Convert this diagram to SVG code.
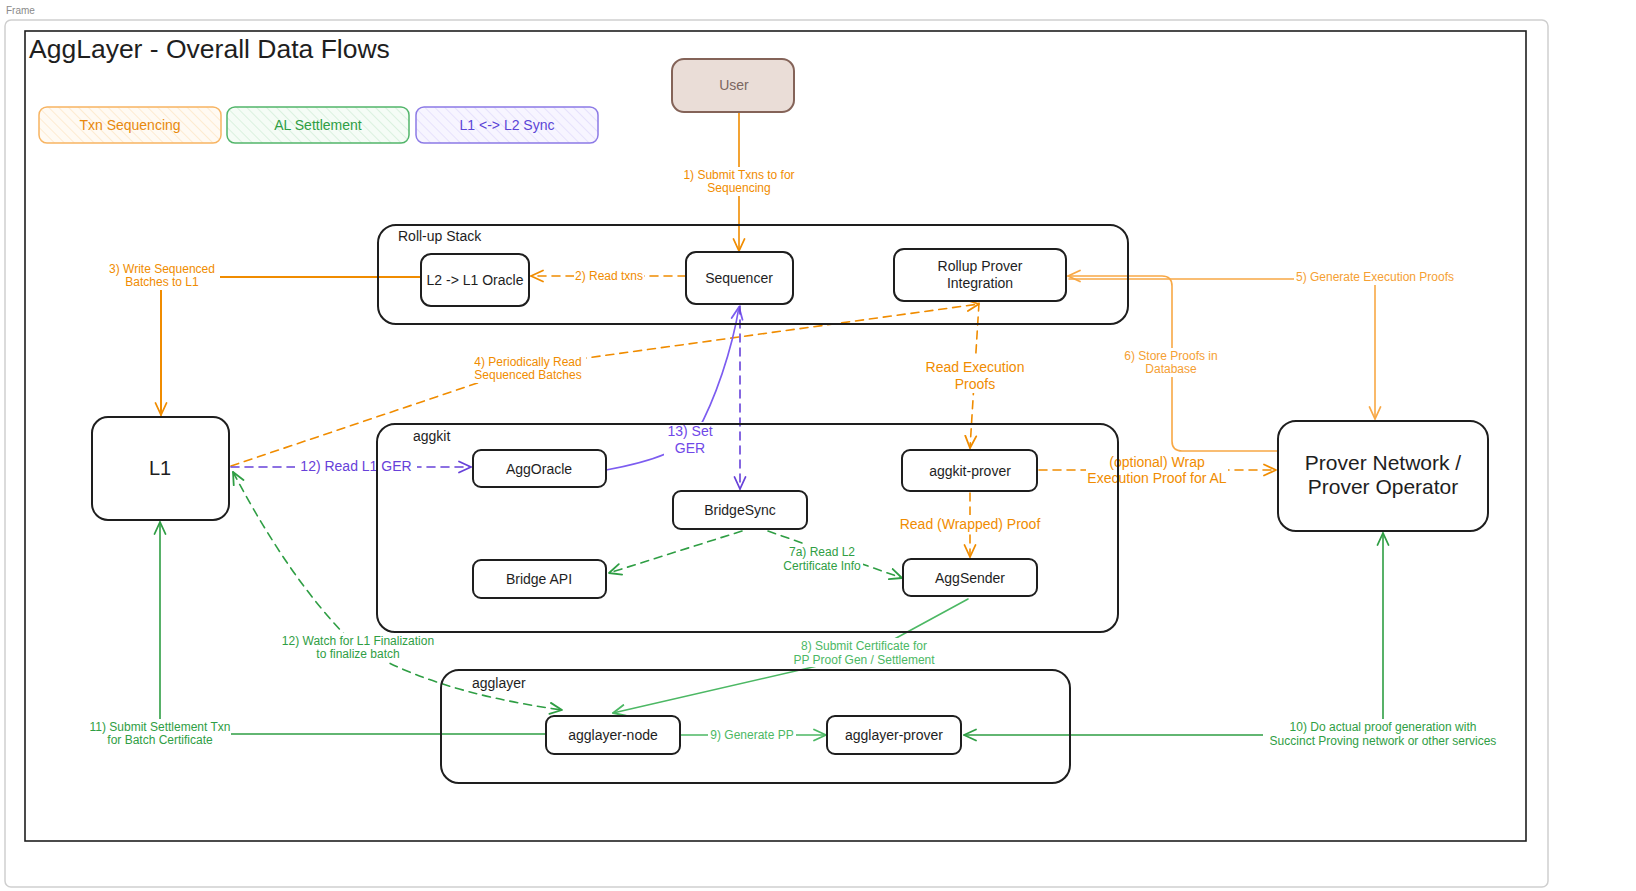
<svg xmlns="http://www.w3.org/2000/svg" width="1636" height="891" viewBox="0 0 1636 891">
<style>
text{font-family:"Liberation Sans",Arial,sans-serif;}
.node{fill:#fff;stroke:#1e1e1e;stroke-width:2;}
.cont{fill:none;stroke:#1e1e1e;stroke-width:2;}
.nt{font-size:14px;fill:#1e1e1e;text-anchor:middle;}
.ct{font-size:14px;fill:#1e1e1e;}
.ln{fill:none;stroke-width:1.6;stroke-linecap:round;stroke-linejoin:round;}
.dash{stroke-dasharray:8 6;}
.o{stroke:#f08c00;}
.ol{stroke:#f8a845;}
.g{stroke:#2f9e44;}
.gl{stroke:#4cb864;}
.p{stroke:#6741d9;}
.pl{stroke:#7c5cf0;}
.bg{fill:#fff;}
.lb{font-size:12px;text-anchor:middle;}
.lb14{font-size:14px;text-anchor:middle;}
.to{fill:#f08c00;}
.tol{fill:#f5a033;}
.tg{fill:#2f9e44;}
.tgl{fill:#4cb864;}
.tp{fill:#6741d9;}
.tpl{fill:#7048e8;}
</style>
<defs>
<marker id="aO" viewBox="0 0 14 14" refX="13" refY="7" markerWidth="14" markerHeight="14" markerUnits="userSpaceOnUse" orient="auto-start-reverse"><path d="M1,1.5 L13,7 L1,12.5" fill="none" stroke="#f08c00" stroke-width="1.8" stroke-linecap="round" stroke-linejoin="round"/></marker>
<marker id="aOL" viewBox="0 0 14 14" refX="13" refY="7" markerWidth="14" markerHeight="14" markerUnits="userSpaceOnUse" orient="auto-start-reverse"><path d="M1,1.5 L13,7 L1,12.5" fill="none" stroke="#f8a845" stroke-width="1.8" stroke-linecap="round" stroke-linejoin="round"/></marker>
<marker id="aG" viewBox="0 0 14 14" refX="13" refY="7" markerWidth="14" markerHeight="14" markerUnits="userSpaceOnUse" orient="auto-start-reverse"><path d="M1,1.5 L13,7 L1,12.5" fill="none" stroke="#2f9e44" stroke-width="1.8" stroke-linecap="round" stroke-linejoin="round"/></marker>
<marker id="aGL" viewBox="0 0 14 14" refX="13" refY="7" markerWidth="14" markerHeight="14" markerUnits="userSpaceOnUse" orient="auto-start-reverse"><path d="M1,1.5 L13,7 L1,12.5" fill="none" stroke="#4cb864" stroke-width="1.8" stroke-linecap="round" stroke-linejoin="round"/></marker>
<marker id="aP" viewBox="0 0 14 14" refX="13" refY="7" markerWidth="14" markerHeight="14" markerUnits="userSpaceOnUse" orient="auto-start-reverse"><path d="M1,1.5 L13,7 L1,12.5" fill="none" stroke="#6741d9" stroke-width="1.8" stroke-linecap="round" stroke-linejoin="round"/></marker>
<marker id="aPL" viewBox="0 0 14 14" refX="13" refY="7" markerWidth="14" markerHeight="14" markerUnits="userSpaceOnUse" orient="auto-start-reverse"><path d="M1,1.5 L13,7 L1,12.5" fill="none" stroke="#7c5cf0" stroke-width="1.8" stroke-linecap="round" stroke-linejoin="round"/></marker>
<pattern id="hO" width="7" height="7" patternUnits="userSpaceOnUse" patternTransform="rotate(-45)"><rect width="7" height="7" fill="#fffaf3"/><line x1="0" y1="0" x2="0" y2="7" stroke="#fbdcb0" stroke-width="1"/></pattern>
<pattern id="hG" width="7" height="7" patternUnits="userSpaceOnUse" patternTransform="rotate(-45)"><rect width="7" height="7" fill="#f5fcf6"/><line x1="0" y1="0" x2="0" y2="7" stroke="#bfe6c8" stroke-width="1"/></pattern>
<pattern id="hP" width="7" height="7" patternUnits="userSpaceOnUse" patternTransform="rotate(-45)"><rect width="7" height="7" fill="#f7f5ff"/><line x1="0" y1="0" x2="0" y2="7" stroke="#d6cdfa" stroke-width="1"/></pattern>
</defs>

<rect x="0" y="0" width="1636" height="891" fill="#fff"/>
<g id="frame">
<text x="6" y="14" font-size="10" fill="#8a8a8a">Frame</text>
<rect x="5" y="20" width="1543" height="867" rx="6" fill="#fff" stroke="#cfcfcf" stroke-width="1.5"/>
<rect x="25" y="31" width="1501" height="810" fill="none" stroke="#1e1e1e" stroke-width="1.6"/>
<text x="29" y="58" font-size="26.5" fill="#1e1e1e">AggLayer - Overall Data Flows</text>
</g>

<g id="legend">
<g id="legend-txn"><rect x="39" y="107" width="182" height="36" rx="8" fill="url(#hO)" stroke="#f7b462" stroke-width="1.5"/><text x="130" y="129.5" class="nt" style="fill:#e8890c">Txn Sequencing</text></g>
<g id="legend-al"><rect x="227" y="107" width="182" height="36" rx="8" fill="url(#hG)" stroke="#52b56a" stroke-width="1.5"/><text x="318" y="129.5" class="nt" style="fill:#2f9e44">AL Settlement</text></g>
<g id="legend-sync"><rect x="416" y="107" width="182" height="36" rx="8" fill="url(#hP)" stroke="#8c7ae6" stroke-width="1.5"/><text x="507" y="129.5" class="nt" style="fill:#5b45d6">L1 &lt;-&gt; L2 Sync</text></g>
</g>

<g id="connectors">
<!-- 1 -->
<path class="ln o" d="M739,112 L739,251" marker-end="url(#aO)"/>
<rect class="bg" x="680" y="167" width="118" height="29"/>
<text class="lb to" x="739" y="179">1) Submit Txns to for</text>
<text class="lb to" x="739" y="192">Sequencing</text>
<!-- 2 -->
<path class="ln o dash" d="M686,276 L531,276" marker-end="url(#aO)"/>
<rect class="bg" x="574" y="268" width="70" height="16"/>
<text class="lb to" x="609" y="280">2) Read txns</text>
<!-- 3 -->
<path class="ln o" style="stroke-width:2" d="M421,277 L161,277 L161,415" marker-end="url(#aO)"/>
<rect class="bg" x="104" y="261" width="116" height="29"/>
<text class="lb to" x="162" y="273">3) Write Sequenced</text>
<text class="lb to" x="162" y="286">Batches to L1</text>
<!-- 4 -->
<path class="ln o dash" d="M231,466 L528,366 L979,304" marker-end="url(#aO)"/>
<rect class="bg" x="470" y="354" width="116" height="29"/>
<text class="lb to" x="528" y="366">4) Periodically Read</text>
<text class="lb to" x="528" y="379">Sequenced Batches</text>
<!-- 5 -->
<path class="ln ol" d="M1069,279 L1375,279 L1375,419" marker-end="url(#aOL)"/>
<rect class="bg" x="1294" y="270" width="162" height="15"/>
<text class="lb tol" x="1375" y="281">5) Generate Execution Proofs</text>
<!-- 6 -->
<path class="ln ol" d="M1277,451 L1182,451 Q1172,451 1172,441 L1172,286 Q1172,276 1162,276 L1068,276" marker-end="url(#aOL)"/>
<rect class="bg" x="1120" y="348" width="102" height="29"/>
<text class="lb tol" x="1171" y="360">6) Store Proofs in</text>
<text class="lb tol" x="1171" y="373">Database</text>
<!-- read execution proofs -->
<path class="ln o dash" d="M979,303 L970,448" marker-end="url(#aO)"/>
<rect class="bg" x="924" y="357" width="102" height="36"/>
<text class="lb14 to" x="975" y="372">Read Execution</text>
<text class="lb14 to" x="975" y="389">Proofs</text>
<!-- read wrapped proof -->
<path class="ln o dash" d="M970,493 L970,557" marker-end="url(#aO)"/>
<rect class="bg" x="898" y="515" width="144" height="18"/>
<text class="lb14 to" x="970" y="529">Read (Wrapped) Proof</text>
<!-- optional wrap -->
<path class="ln o dash" d="M1039,470 L1276,470" marker-end="url(#aO)"/>
<rect class="bg" x="1086" y="453" width="142" height="34"/>
<text class="lb14 to" x="1157" y="467">(optional) Wrap</text>
<text class="lb14 to" x="1157" y="483">Execution Proof for AL</text>
<!-- 12 read L1 GER -->
<path class="ln p dash" d="M231,467 L471,467" marker-end="url(#aP)"/>
<rect class="bg" x="295" y="457" width="122" height="18"/>
<text class="lb14 tp" x="356" y="471">12) Read L1 GER</text>
<!-- 13 set GER -->
<path class="ln pl" d="M606,470 C650,462 685,450 697,432 C715,400 732,350 739,307" marker-end="url(#aPL)"/>
<rect class="bg" x="664" y="422" width="52" height="35"/>
<text class="lb14 tpl" x="690" y="436">13) Set</text>
<text class="lb14 tpl" x="690" y="453">GER</text>
<!-- sequencer to bridgesync -->
<path class="ln p dash" d="M740,306 L740,489" marker-end="url(#aP)"/>
<!-- bridgesync to bridge api -->
<path class="ln g dash" d="M742,531 L609,573" marker-end="url(#aG)"/>
<!-- 7a -->
<path class="ln g dash" d="M768,531 L902,578" marker-end="url(#aG)"/>
<rect class="bg" x="781" y="544" width="82" height="29"/>
<text class="lb tg" x="822" y="556">7a) Read L2</text>
<text class="lb tg" x="822" y="570">Certificate Info</text>
<!-- 8 -->
<path class="ln gl" d="M968,599 L865,655 L613,713" marker-end="url(#aGL)"/>
<rect class="bg" x="789" y="638" width="150" height="29"/>
<text class="lb tgl" x="864" y="650">8) Submit Certificate for</text>
<text class="lb tgl" x="864" y="664">PP Proof Gen / Settlement</text>
<!-- 9 -->
<path class="ln gl" d="M680,735 L826,735" marker-end="url(#aGL)"/>
<rect class="bg" x="708" y="727" width="88" height="16"/>
<text class="lb tgl" x="752" y="739">9) Generate PP</text>
<!-- 10 -->
<path class="ln g" d="M964,735 L1383,735 L1383,533" marker-start="url(#aG)" marker-end="url(#aG)"/>
<rect class="bg" x="1263" y="719" width="240" height="30"/>
<text class="lb tg" x="1383" y="731">10) Do actual proof generation with</text>
<text class="lb tg" x="1383" y="745">Succinct Proving network or other services</text>
<!-- 11 -->
<path class="ln g" d="M545,734 L160,734 L160,522" marker-end="url(#aG)"/>
<rect class="bg" x="89" y="719" width="142" height="29"/>
<text class="lb tg" x="160" y="731">11) Submit Settlement Txn</text>
<text class="lb tg" x="160" y="744">for Batch Certificate</text>
<!-- 12 watch -->
<path class="ln g dash" d="M233,472 Q290,580 350,640 Q420,690 562,710" marker-start="url(#aG)" marker-end="url(#aG)"/>
<rect class="bg" x="279" y="633" width="158" height="29"/>
<text class="lb tg" x="358" y="645">12) Watch for L1 Finalization</text>
<text class="lb tg" x="358" y="658">to finalize batch</text>
</g>

<g id="rollup-stack"><rect class="cont" x="378" y="225" width="750" height="99" rx="18"/><text class="ct" x="398" y="241">Roll-up Stack</text></g>
<g id="aggkit"><rect class="cont" x="377" y="424" width="741" height="208" rx="18"/><text class="ct" x="413" y="441">aggkit</text></g>
<g id="agglayer"><rect class="cont" x="441" y="670" width="629" height="113" rx="18"/><text class="ct" x="472" y="688">agglayer</text></g>

<g id="user"><rect x="672" y="59" width="122" height="53" rx="12" fill="#eaddd7" stroke="#846358" stroke-width="2"/><text class="nt" x="734" y="90" style="fill:#7a6661">User</text></g>
<g id="l2-l1-oracle"><rect class="node" x="421" y="254" width="108" height="52" rx="10"/><text class="nt" x="475" y="285">L2 -&gt; L1 Oracle</text></g>
<g id="sequencer"><rect class="node" x="686" y="252" width="107" height="52" rx="10"/><text class="nt" x="739" y="283">Sequencer</text></g>
<g id="rollup-prover"><rect class="node" x="894" y="249" width="172" height="52" rx="10"/><text class="nt" x="980" y="271">Rollup Prover</text><text class="nt" x="980" y="288">Integration</text></g>
<g id="l1"><rect class="node" x="92" y="417" width="137" height="103" rx="16"/><text class="nt" x="160" y="475" style="font-size:20px">L1</text></g>
<g id="aggoracle"><rect class="node" x="473" y="450" width="133" height="37" rx="8"/><text class="nt" x="539" y="473.5">AggOracle</text></g>
<g id="aggkit-prover"><rect class="node" x="902" y="450" width="135" height="41" rx="8"/><text class="nt" x="970" y="475.5">aggkit-prover</text></g>
<g id="bridgesync"><rect class="node" x="673" y="491" width="134" height="38" rx="8"/><text class="nt" x="740" y="515">BridgeSync</text></g>
<g id="bridge-api"><rect class="node" x="473" y="560" width="133" height="38" rx="8"/><text class="nt" x="539" y="584">Bridge API</text></g>
<g id="aggsender"><rect class="node" x="903" y="559" width="134" height="37" rx="8"/><text class="nt" x="970" y="582.5">AggSender</text></g>
<g id="prover-network"><rect class="node" x="1278" y="421" width="210" height="110" rx="18"/><text class="nt" x="1383" y="470" style="font-size:21px">Prover Network /</text><text class="nt" x="1383" y="494" style="font-size:21px">Prover Operator</text></g>
<g id="agglayer-node"><rect class="node" x="546" y="716" width="134" height="38" rx="8"/><text class="nt" x="613" y="740">agglayer-node</text></g>
<g id="agglayer-prover"><rect class="node" x="827" y="716" width="134" height="38" rx="8"/><text class="nt" x="894" y="740">agglayer-prover</text></g>
</svg>
